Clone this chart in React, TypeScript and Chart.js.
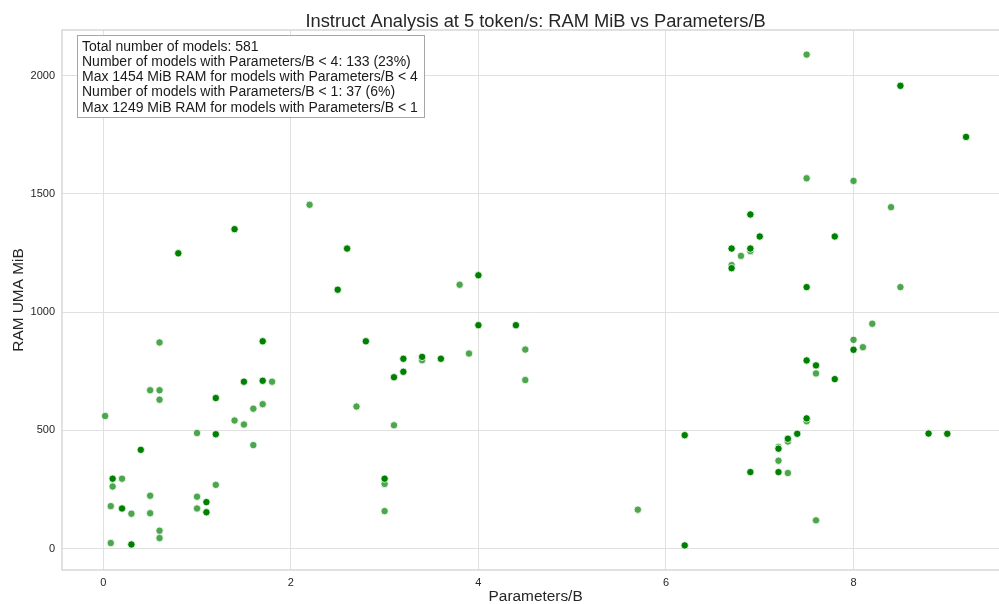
import React, { useEffect, useRef } from "react";
import { Chart, registerables } from "chart.js";

Chart.register(...registerables);

const TITLE = "Instruct Analysis at 5 token/s: RAM MiB vs Parameters/B";
const X_LABEL = "Parameters/B";
const Y_LABEL = "RAM UMA MiB";
const INFO_LINES = [
  "Total number of models: 581",
  "Number of models with Parameters/B < 4: 133 (23%)",
  "Max 1454 MiB RAM for models with Parameters/B < 4",
  "Number of models with Parameters/B < 1: 37 (6%)",
  "Max 1249 MiB RAM for models with Parameters/B < 1",
];
const X_TICKS = [0, 2, 4, 6, 8];
const Y_TICKS = [0, 500, 1000, 1500, 2000];
const X_RANGE = [-0.44, 9.66];
const Y_RANGE = [-90, 2193];

const darkX = [1.4, 0.8, 2.6, 2.5, 1.7, 2.8, 1.5, 1.7, 1.2, 1.2, 0.4, 0.1, 1.1, 0.2, 1.1, 0.3, 3.0, 4.0, 4.0, 4.4, 3.2, 3.4, 3.6, 3.1, 3.2, 8.5, 9.2, 6.9, 7.0, 7.8, 6.7, 6.9, 6.7, 7.5, 8.0, 7.5, 7.6, 7.8, 7.5, 7.4, 7.3, 7.2, 7.2, 6.9, 6.2, 6.2, 8.8, 9.0];
const darkY = [1351, 1249, 1269, 1095, 877, 877, 706, 710, 637, 484, 418, 296, 197, 170, 154, 18, 296, 1156, 945, 945, 803, 811, 803, 725, 748, 1957, 1741, 1413, 1320, 1320, 1269, 1269, 1186, 1106, 841, 796, 775, 717, 551, 486, 465, 423, 324, 324, 480, 14, 487, 486];

const lightX = [2.2, 0.6, 1.8, 0.5, 0.6, 0.6, 1.7, 1.6, 0.02, 1.4, 1.5, 2.7, 1.0, 1.6, 0.2, 0.1, 1.2, 0.5, 1.0, 0.08, 0.3, 0.5, 1.0, 0.6, 0.6, 0.08, 3.0, 3.0, 3.8, 4.5, 4.5, 3.9, 3.4, 3.1, 5.7, 7.5, 7.5, 8.0, 8.4, 6.9, 6.8, 6.7, 8.5, 8.2, 8.0, 8.1, 7.6, 7.5, 7.3, 7.2, 7.2, 7.3, 7.6];
const lightY = [1454, 872, 706, 670, 670, 630, 611, 592, 561, 542, 525, 601, 489, 438, 296, 263, 270, 224, 220, 180, 148, 150, 170, 76, 45, 24, 274, 159, 1116, 842, 713, 825, 797, 522, 165, 2089, 1566, 1555, 1444, 1258, 1238, 1199, 1106, 951, 883, 852, 741, 539, 453, 430, 372, 320, 120];

const FONT = '"Liberation Sans", Arial, sans-serif';
const TEXT_COLOR = "#262626";

const decorPlugin = {
  id: "decor",
  beforeDatasetsDraw(chart: any) {
    const { ctx, chartArea } = chart;
    ctx.save();
    ctx.strokeStyle = "#d2d2d2";
    ctx.lineWidth = 1.3;
    ctx.strokeRect(chartArea.left, chartArea.top, chartArea.right - chartArea.left, chartArea.bottom - chartArea.top);
    ctx.restore();
  },
  afterDraw(chart: any) {
    const { ctx, chartArea } = chart;
    ctx.save();
    // title
    ctx.fillStyle = TEXT_COLOR;
    ctx.font = `18.3px ${FONT}`;
    ctx.textAlign = "center";
    ctx.textBaseline = "alphabetic";
    ctx.fillText(TITLE, (chartArea.left + chartArea.right) / 2, chartArea.top - 3.3);
    // info box
    const bx = chartArea.left + 15;
    const by = chartArea.top + 5;
    const bw = 347;
    const bh = 82;
    ctx.fillStyle = "rgba(255,255,255,0.95)";
    ctx.fillRect(bx, by, bw, bh);
    ctx.strokeStyle = "#a6a6a6";
    ctx.lineWidth = 1;
    ctx.strokeRect(bx + 0.5, by + 0.5, bw, bh);
    ctx.fillStyle = "#1a1a1a";
    ctx.font = `14px ${FONT}`;
    ctx.textAlign = "left";
    INFO_LINES.forEach((line, i) => {
      ctx.fillText(line, bx + 5, by + 15.7 + i * 15.25);
    });
    ctx.restore();
  },
};

export default function App() {
  const ref = useRef<HTMLCanvasElement>(null);
  useEffect(() => {
    document.body.style.margin = "0";
    const canvas = ref.current!;
    const chart = new Chart(canvas, {
      type: "scatter",
      data: {
        datasets: [
          {
            label: "dark",
            data: darkX.map((x, i) => ({ x, y: darkY[i] })),
            backgroundColor: "#008000",
            borderColor: "#ffffff",
            borderWidth: 0.8,
            pointRadius: 3.7,
          },
          {
            label: "light",
            data: lightX.map((x, i) => ({ x, y: lightY[i] })),
            backgroundColor: "rgba(0,128,0,0.7)",
            borderColor: "#ffffff",
            borderWidth: 0.8,
            pointRadius: 3.7,
          },
        ],
      },
      options: {
        animation: false,
        responsive: false,
        layout: { padding: { top: 30, right: 1, left: 0, bottom: 0 } },
        plugins: { legend: { display: false }, tooltip: { enabled: false }, title: { display: false } },
        scales: {
          x: {
            type: "linear",
            min: X_RANGE[0],
            max: X_RANGE[1],
            afterBuildTicks: (scale: any) => {
              scale.ticks = X_TICKS.map((v) => ({ value: v }));
            },
            afterFit: (scale: any) => {
              scale.height = 34;
            },
            grid: { color: "#e0e0e0", lineWidth: 1, drawTicks: false },
            border: { display: false },
            ticks: {
              padding: 6,
              color: TEXT_COLOR,
              font: { family: FONT, size: 11 },
              callback: (v: any) => String(v),
            },
            title: {
              display: true,
              text: X_LABEL,
              color: TEXT_COLOR,
              font: { family: FONT, size: 15.4, lineHeight: 1 },
              padding: { top: 0, bottom: 0 },
            },
          },
          y: {
            type: "linear",
            min: Y_RANGE[0],
            max: Y_RANGE[1],
            afterBuildTicks: (scale: any) => {
              scale.ticks = Y_TICKS.map((v) => ({ value: v }));
            },
            afterFit: (scale: any) => {
              scale.width = 62;
            },
            grid: { color: "#e0e0e0", lineWidth: 1, drawTicks: false },
            border: { display: false },
            ticks: {
              padding: 7,
              color: TEXT_COLOR,
              font: { family: FONT, size: 11 },
              callback: (v: any) => String(v),
            },
            title: {
              display: true,
              text: Y_LABEL,
              color: TEXT_COLOR,
              font: { family: FONT, size: 15.4, lineHeight: 1 },
              padding: { top: 11, bottom: 0 },
            },
          },
        },
      },
      plugins: [decorPlugin],
    } as any);
    return () => chart.destroy();
  }, []);
  return (
    <div style={{ width: 999, height: 604, overflow: "hidden", position: "relative" }}>
      <canvas ref={ref} width={1014} height={604} style={{ display: "block" }} />
    </div>
  );
}
